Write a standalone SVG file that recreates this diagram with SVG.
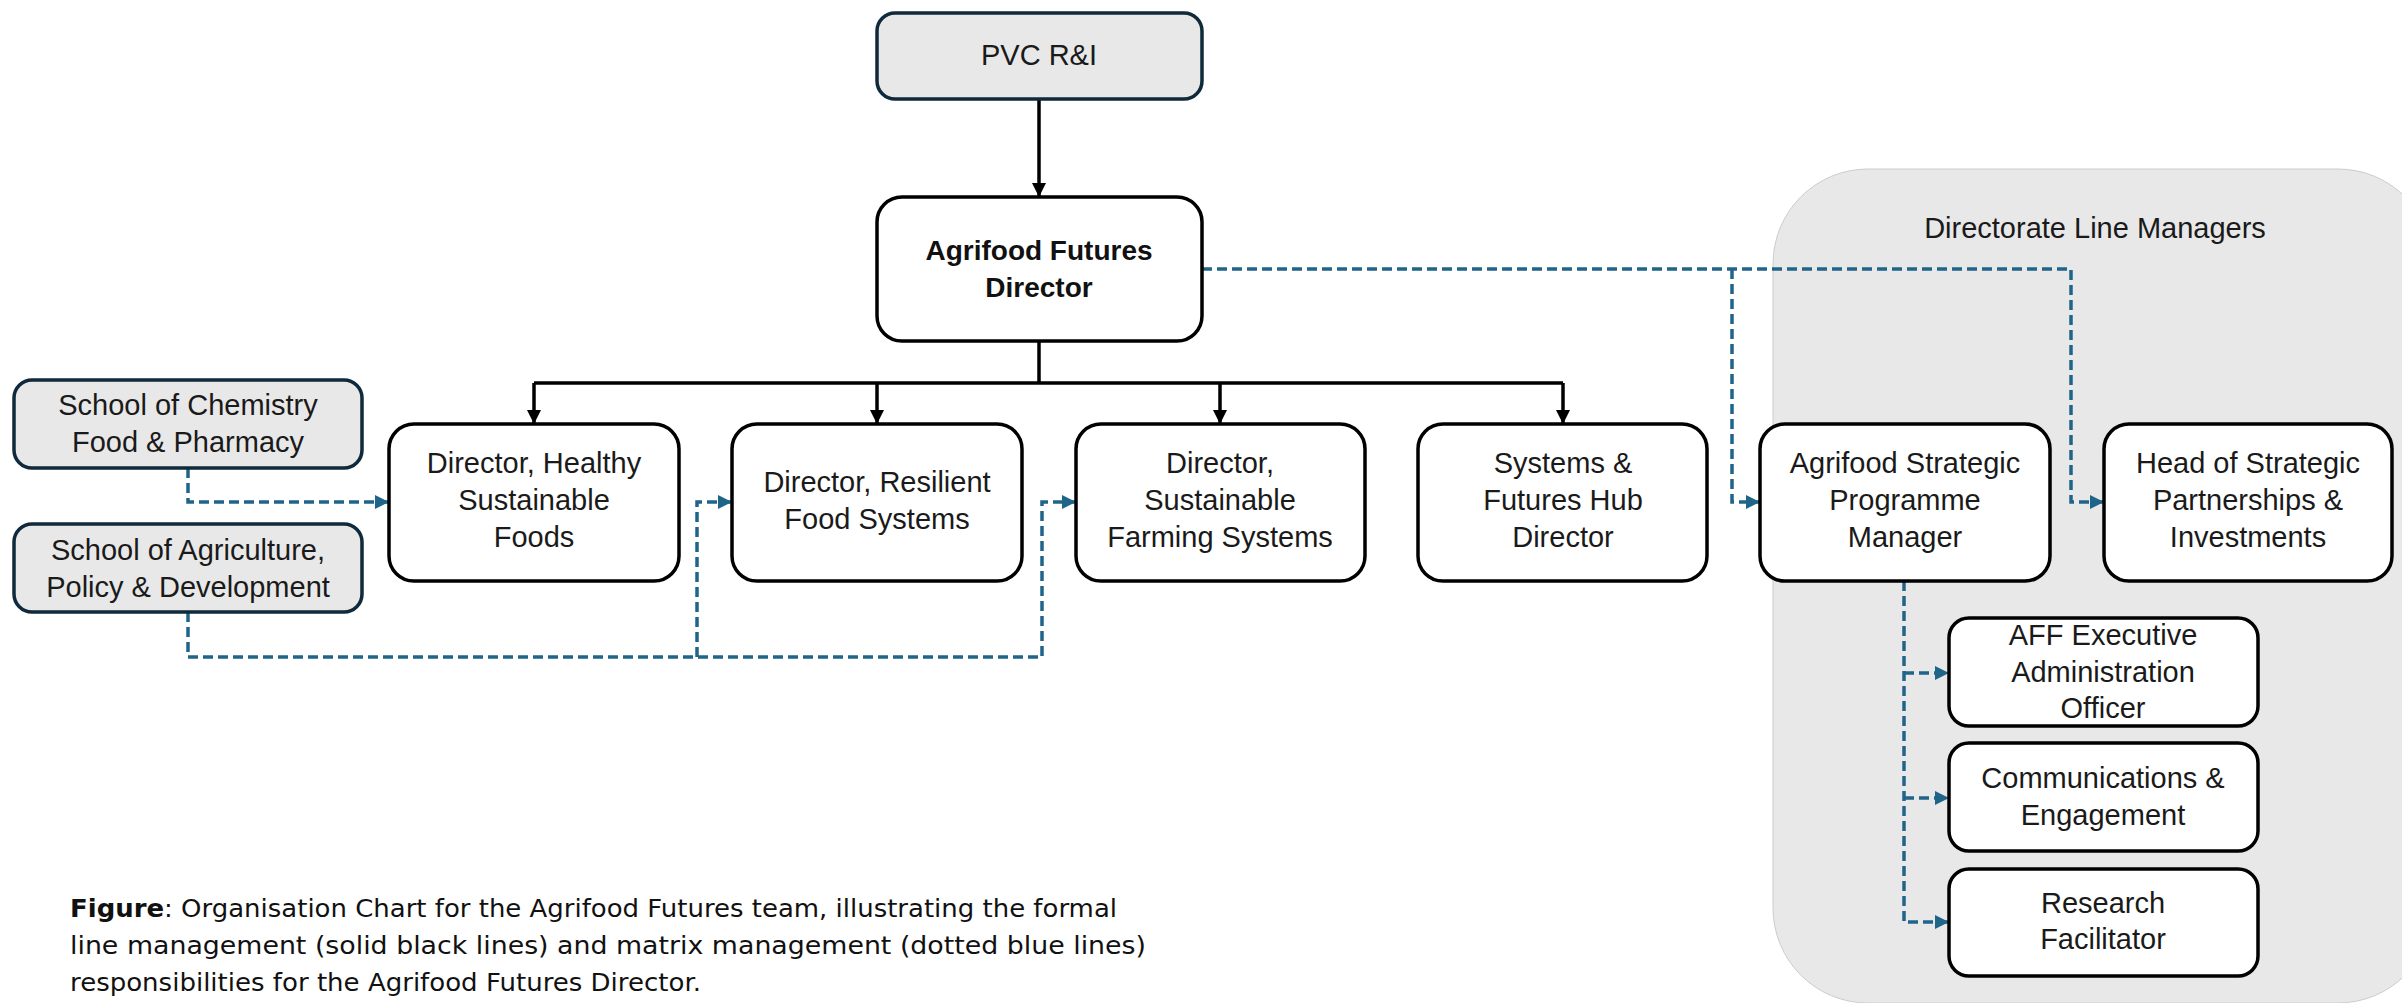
<svg xmlns="http://www.w3.org/2000/svg" width="2402" height="1003" viewBox="0 0 2402 1003">
<style>
.box{fill:#ffffff;stroke:#000000;stroke-width:3.5}
.grey{fill:#e8e8e8;stroke:#0f2a3a;stroke-width:3.5}
.t{font-family:"Liberation Sans",Arial,sans-serif;font-size:29px;fill:#1a1a1a;text-anchor:middle}
.tb{font-family:"Liberation Sans",Arial,sans-serif;font-size:28px;font-weight:bold;fill:#111111;text-anchor:middle}
.solid{fill:none;stroke:#000000;stroke-width:3.5}
.dash{fill:none;stroke:#1f6489;stroke-width:3.5;stroke-dasharray:10 5}
.cap{font-family:"DejaVu Sans","Noto Sans",sans-serif;font-size:24px;fill:#111111}
</style>
<defs>
<marker id="ab" markerUnits="userSpaceOnUse" markerWidth="15" markerHeight="15" refX="14" refY="7" orient="auto">
<path d="M0,0 L14,7 L0,14 z" fill="#000000"/>
</marker>
<marker id="au" markerUnits="userSpaceOnUse" markerWidth="15" markerHeight="15" refX="14" refY="7" orient="auto">
<path d="M0,0 L14,7 L0,14 z" fill="#1f6489"/>
</marker>
</defs>
<rect width="2402" height="1003" fill="#ffffff"/>
<g id="panel">
<rect x="1773" y="169" width="660" height="834" rx="95" ry="95" fill="#e8e8e8" stroke="#cccccc" stroke-width="1"/>
<text class="t" x="2095" y="238">Directorate Line Managers</text>
</g>
<g id="connectors">
<path class="solid" d="M1039,99 V197" marker-end="url(#ab)"/>
<path class="solid" d="M1039,341 V383"/>
<path class="solid" d="M534,383 H1563"/>
<path class="solid" d="M534,383 V424" marker-end="url(#ab)"/>
<path class="solid" d="M877,383 V424" marker-end="url(#ab)"/>
<path class="solid" d="M1220,383 V424" marker-end="url(#ab)"/>
<path class="solid" d="M1563,383 V424" marker-end="url(#ab)"/>
<path class="dash" d="M1202,269 H2071 V502 H2104" marker-end="url(#au)"/>
<path class="dash" d="M1732,269 V502 H1760" marker-end="url(#au)"/>
<path class="dash" d="M188,468 V502 H389" marker-end="url(#au)"/>
<path class="dash" d="M188,612 V657 H1042 V502 H1076" marker-end="url(#au)"/>
<path class="dash" d="M697,657 V502 H732" marker-end="url(#au)"/>
<path class="dash" d="M1904,581 V922 H1949" marker-end="url(#au)"/>
<path class="dash" d="M1904,673 H1949" marker-end="url(#au)"/>
<path class="dash" d="M1904,798 H1949" marker-end="url(#au)"/>
</g>
<g id="pvc">
<rect class="grey" x="877" y="13" width="325" height="86" rx="18"/>
<text class="t" x="1039" y="65">PVC R&amp;I</text>
</g>
<g id="director">
<rect class="box" x="877" y="197" width="325" height="144" rx="25"/>
<text class="tb" x="1039" y="260">Agrifood Futures</text>
<text class="tb" x="1039" y="297">Director</text>
</g>
<g id="chemistry">
<rect class="grey" x="14" y="380" width="348" height="88" rx="18"/>
<text class="t" x="188" y="415">School of Chemistry</text>
<text class="t" x="188" y="452">Food &amp; Pharmacy</text>
</g>
<g id="agriculture">
<rect class="grey" x="14" y="524" width="348" height="88" rx="18"/>
<text class="t" x="188" y="560">School of Agriculture,</text>
<text class="t" x="188" y="597">Policy &amp; Development</text>
</g>
<g id="healthy">
<rect class="box" x="389" y="424" width="290" height="157" rx="25"/>
<text class="t" x="534" y="473">Director, Healthy</text>
<text class="t" x="534" y="510">Sustainable</text>
<text class="t" x="534" y="547">Foods</text>
</g>
<g id="resilient">
<rect class="box" x="732" y="424" width="290" height="157" rx="25"/>
<text class="t" x="877" y="492">Director, Resilient</text>
<text class="t" x="877" y="529">Food Systems</text>
</g>
<g id="farming">
<rect class="box" x="1076" y="424" width="289" height="157" rx="25"/>
<text class="t" x="1220" y="473">Director,</text>
<text class="t" x="1220" y="510">Sustainable</text>
<text class="t" x="1220" y="547">Farming Systems</text>
</g>
<g id="systems">
<rect class="box" x="1418" y="424" width="289" height="157" rx="25"/>
<text class="t" x="1563" y="473">Systems &amp;</text>
<text class="t" x="1563" y="510">Futures Hub</text>
<text class="t" x="1563" y="547">Director</text>
</g>
<g id="aspm">
<rect class="box" x="1760" y="424" width="290" height="157" rx="25"/>
<text class="t" x="1905" y="473">Agrifood Strategic</text>
<text class="t" x="1905" y="510">Programme</text>
<text class="t" x="1905" y="547">Manager</text>
</g>
<g id="head">
<rect class="box" x="2104" y="424" width="288" height="157" rx="25"/>
<text class="t" x="2248" y="473">Head of Strategic</text>
<text class="t" x="2248" y="510">Partnerships &amp;</text>
<text class="t" x="2248" y="547">Investments</text>
</g>
<g id="aff-exec">
<rect class="box" x="1949" y="618" width="309" height="108" rx="20"/>
<text class="t" x="2103" y="645">AFF Executive</text>
<text class="t" x="2103" y="682">Administration</text>
<text class="t" x="2103" y="718">Officer</text>
</g>
<g id="comms">
<rect class="box" x="1949" y="743" width="309" height="108" rx="20"/>
<text class="t" x="2103" y="788">Communications &amp;</text>
<text class="t" x="2103" y="825">Engagement</text>
</g>
<g id="research">
<rect class="box" x="1949" y="869" width="309" height="107" rx="20"/>
<text class="t" x="2103" y="913">Research</text>
<text class="t" x="2103" y="949">Facilitator</text>
</g>
<g id="caption">
<text class="cap" x="70" y="917" textLength="1047" lengthAdjust="spacingAndGlyphs"><tspan font-weight="bold">Figure</tspan>: Organisation Chart for the Agrifood Futures team, illustrating the formal</text>
<text class="cap" x="70" y="954" textLength="1076" lengthAdjust="spacingAndGlyphs">line management (solid black lines) and matrix management (dotted blue lines)</text>
<text class="cap" x="70" y="991" textLength="631" lengthAdjust="spacingAndGlyphs">responsibilities for the Agrifood Futures Director.</text>
</g>
</svg>
